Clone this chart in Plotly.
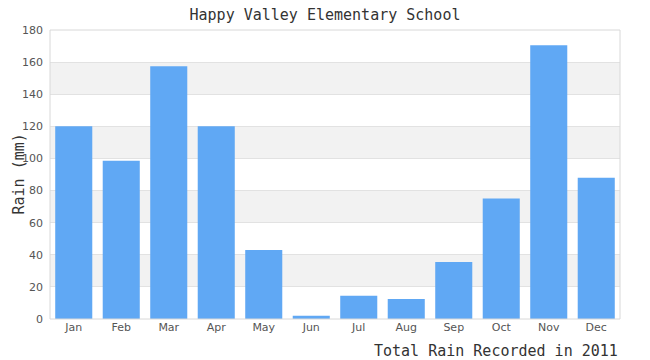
import plotly.graph_objects as go

months = ["Jan", "Feb", "Mar", "Apr", "May", "Jun", "Jul", "Aug", "Sep", "Oct", "Nov", "Dec"]
rain = [120, 98.5, 157.5, 120, 43, 2, 14.5, 12.5, 35.5, 75, 170.5, 88]
y_ticks = [0, 20, 40, 60, 80, 100, 120, 140, 160, 180]
title_text = "Happy Valley Elementary School"
x_title = "Total Rain Recorded in 2011"
y_title = "Rain (mm)"

mono = "DejaVu Sans Mono"
sans = "DejaVu Sans"

fig = go.Figure()
fig.add_trace(go.Bar(x=months, y=rain, marker=dict(color="#60a8f4", line=dict(width=0))))

shapes = []
for i in range(1, len(y_ticks) - 1, 2):
    shapes.append(dict(type="rect", xref="paper", yref="y", x0=0, x1=1,
                       y0=y_ticks[i], y1=y_ticks[i + 1], fillcolor="#f2f2f2",
                       line=dict(width=0), layer="below"))
shapes.append(dict(type="rect", xref="paper", yref="paper", x0=0, x1=1, y0=0, y1=1,
                   line=dict(color="#d8d8d8", width=1), fillcolor="rgba(0,0,0,0)", layer="above"))

fig.update_layout(
    width=650, height=360,
    margin=dict(l=50, r=30, t=30, b=41, autoexpand=False),
    paper_bgcolor="white", plot_bgcolor="white",
    bargap=0.22,
    showlegend=False,
    shapes=shapes,
    title=dict(text=title_text, xref="container", yref="container", x=0.5, xanchor="center",
               y=1 - 15 / 360, yanchor="middle", automargin=False,
               font=dict(family=mono, size=15, color="#333")),
    xaxis=dict(showgrid=False, showline=False, ticks="", automargin=False,
               tickfont=dict(family=sans, size=11, color="#555"), fixedrange=True),
    yaxis=dict(range=[0, 180], tickvals=y_ticks, showgrid=True, gridcolor="#e2e2e2", gridwidth=1,
               zeroline=False, showline=False, ticks="", ticklabelstandoff=6, automargin=False,
               tickfont=dict(family=sans, size=11, color="#555")),
    annotations=[
        dict(text=y_title, xref="paper", yref="paper", x=-32 / 570, xanchor="center",
             y=0.5, yanchor="middle", textangle=-90, showarrow=False,
             font=dict(family=mono, size=15, color="#333")),
        dict(text=x_title, xref="paper", yref="paper", x=1, xanchor="right",
             y=-32 / 289, yanchor="middle", showarrow=False,
             font=dict(family=mono, size=15, color="#333")),
    ],
)

fig.write_html("out.html", config={"displayModeBar": False},
               post_script="document.body.style.margin='0';")
